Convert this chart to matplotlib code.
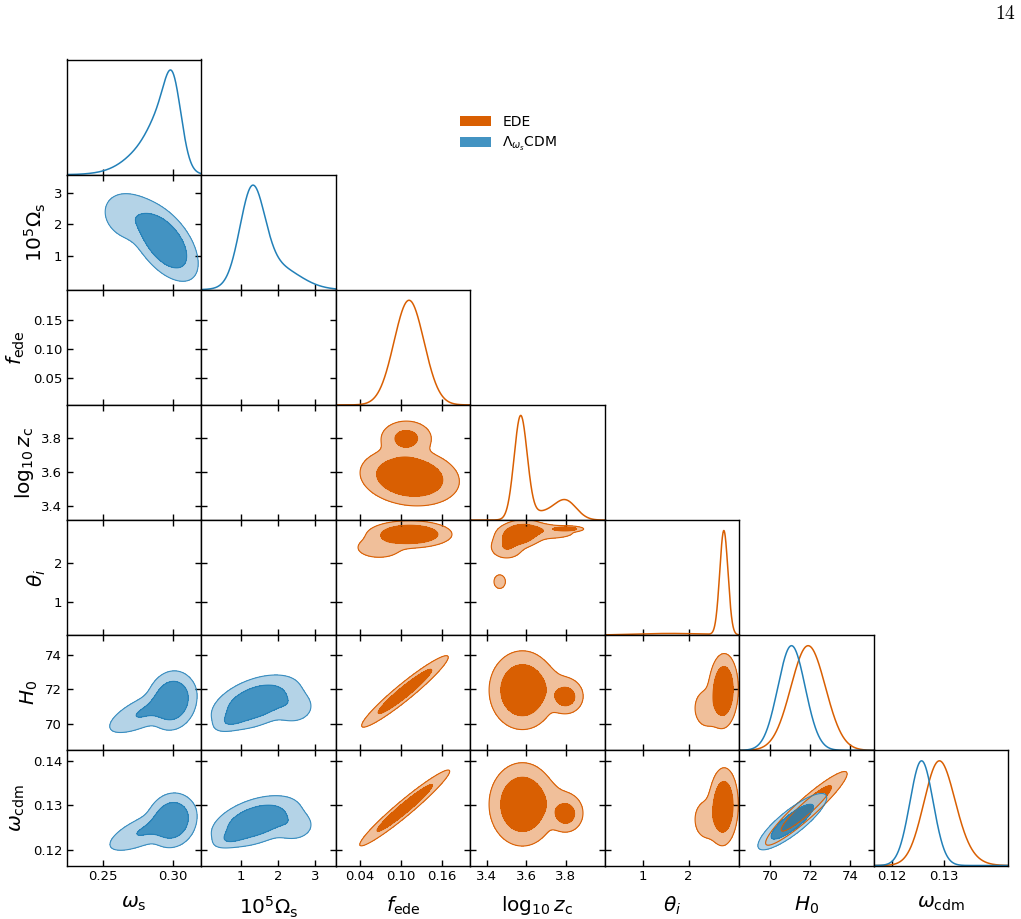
import numpy as np
import matplotlib
matplotlib.use('Agg')
import matplotlib.pyplot as plt
from matplotlib.patches import Patch

# ---------------- parameters ----------------
param_labels = [r'$\omega_{\rm s}$', r'$10^5\Omega_{\rm s}$', r'$f_{\rm ede}$',
                r'$\log_{10} z_{\rm c}$', r'$\theta_i$', r'$H_0$', r'$\omega_{\rm cdm}$']
param_lo = [0.2241, -0.07, 0.0045, 3.316, 0.16, 68.45, 0.1164]
param_hi = [0.3201, 3.57, 0.2020, 3.997, 3.105, 75.15, 0.1424]
param_upper_bound = [None, None, None, None, 3.10, None, None]

xtick_omegas = [0.25, 0.30];          xticklab_omegas = ['0.25', '0.30']
xtick_Omegas = [1, 2, 3];             xticklab_Omegas = ['1', '2', '3']
xtick_fede = [0.04, 0.10, 0.16];      xticklab_fede = ['0.04', '0.10', '0.16']
ytick_fede = [0.05, 0.10, 0.15];      yticklab_fede = ['0.05', '0.10', '0.15']
tick_logzc = [3.4, 3.6, 3.8];         ticklab_logzc = ['3.4', '3.6', '3.8']
tick_theta = [1, 2];                  ticklab_theta = ['1', '2']
tick_H0 = [70, 72, 74];               ticklab_H0 = ['70', '72', '74']
xtick_wcdm = [0.12, 0.13];            xticklab_wcdm = ['0.12', '0.13']
ytick_wcdm = [0.12, 0.13, 0.14];      yticklab_wcdm = ['0.12', '0.13', '0.14']
ytick_Omegas = [1, 2, 3];             yticklab_Omegas = ['1', '2', '3']

# ---------------- 1D marginals: (mean, sd, weight) ----------------
lcdm_1d_omegas = [(0.3000, 0.0060, 0.33), (0.2930, 0.0090, 0.33), (0.2820, 0.0130, 0.28),
                  (0.2650, 0.0150, 0.06)]
lcdm_1d_Omegas = [(1.30, 0.33, 0.65), (1.90, 0.65, 0.35)]
lcdm_1d_H0 = [(71.06, 0.68, 1.0)]
lcdm_1d_wcdm = [(0.12568, 0.00225, 1.0)]

ede_1d_fede = [(0.112, 0.022, 1.0)]
ede_1d_logzc = [(3.571, 0.033, 0.68), (3.80, 0.055, 0.20), (3.68, 0.08, 0.12)]
ede_1d_theta = [(2.77, 0.09, 0.87), (1.6, 0.8, 0.13)]
ede_1d_H0 = [(71.89, 0.86, 1.0)]
ede_1d_wcdm = [(0.1289, 0.0029, 0.85), (0.1320, 0.0033, 0.15)]

# ---------------- 2D posteriors: (mx, my, sx, sy, rho, weight) ----------------
lcdm_omegas_Omegas = [(0.2935, 1.45, 0.0097, 0.50, -0.55, 0.85), (0.2680, 2.25, 0.0100, 0.42, -0.2, 0.15)]
lcdm_omegas_H0 = [(0.2990, 71.35, 0.0072, 0.70, 0.10, 0.73), (0.2800, 70.70, 0.0130, 0.62, 0.70, 0.27)]
lcdm_omegas_wcdm = [(0.2990, 0.1266, 0.0072, 0.0025, 0.10, 0.73), (0.2800, 0.1243, 0.0130, 0.0023, 0.70, 0.27)]
lcdm_Omegas_H0 = [(1.40, 71.25, 0.50, 0.66, 0.45, 0.84), (2.40, 71.0, 0.30, 0.50, 0.0, 0.09),
                  (0.85, 70.35, 0.25, 0.35, 0.6, 0.07)]
lcdm_Omegas_wcdm = [(1.40, 0.1264, 0.50, 0.0024, 0.45, 0.84), (2.40, 0.1255, 0.30, 0.0018, 0.0, 0.09),
                    (0.85, 0.1232, 0.25, 0.0012, 0.6, 0.07)]
lcdm_H0_wcdm = [(71.1, 0.1263, 0.70, 0.00260, 0.85, 1.0)]

ede_fede_logzc = [(0.113, 3.57, 0.030, 0.070, -0.15, 0.85), (0.108, 3.80, 0.018, 0.050, 0.0, 0.15)]
ede_fede_theta = [(0.113, 2.74, 0.025, 0.14, 0.0, 0.88), (0.068, 2.40, 0.020, 0.16, 0.0, 0.12)]
ede_logzc_theta = [(3.565, 2.74, 0.05, 0.15, 0.2, 0.62), (3.80, 2.88, 0.035, 0.03, 0.0, 0.075),
                   (3.64, 2.85, 0.07, 0.08, 0.0, 0.09), (3.50, 2.40, 0.04, 0.14, 0.0, 0.12),
                   (3.72, 2.78, 0.10, 0.12, 0.0, 0.08), (3.465, 1.53, 0.02, 0.12, 0.0, 0.025)]
ede_fede_H0 = [(0.106, 71.88, 0.026, 0.85, 0.955, 1.0)]
ede_fede_wcdm = [(0.1057, 0.1294, 0.027, 0.0035, 0.965, 1.0)]
ede_logzc_H0 = [(3.58, 71.95, 0.070, 0.95, 0.0, 0.84), (3.80, 71.55, 0.040, 0.45, 0.0, 0.12),
                (3.74, 72.2, 0.08, 0.6, 0.0, 0.04)]
ede_logzc_wcdm = [(3.58, 0.1302, 0.070, 0.0039, 0.0, 0.84), (3.80, 0.1280, 0.040, 0.0019, 0.0, 0.12),
                  (3.74, 0.1310, 0.08, 0.0024, 0.0, 0.04)]
ede_theta_H0 = [(2.76, 71.92, 0.13, 0.86, 0.05, 0.88), (2.40, 70.9, 0.18, 0.70, 0.0, 0.12)]
ede_theta_wcdm = [(2.76, 0.1297, 0.13, 0.0035, 0.05, 0.88), (2.40, 0.1268, 0.18, 0.0028, 0.0, 0.12)]
ede_H0_wcdm = [(71.8, 0.1293, 0.83, 0.0034, 0.937, 1.0)]

# ---------------- styling ----------------
ede_color = '#D95F02'
lcdm_color = '#2280B8'
lcdm_alpha = 0.85
pale_factor = 0.6

# index: 0 omega_s, 1 Omega_s, 2 f_ede, 3 logzc, 4 theta, 5 H0, 6 wcdm
ede_1d = {2: ede_1d_fede, 3: ede_1d_logzc, 4: ede_1d_theta, 5: ede_1d_H0, 6: ede_1d_wcdm}
lcdm_1d = {0: lcdm_1d_omegas, 1: lcdm_1d_Omegas, 5: lcdm_1d_H0, 6: lcdm_1d_wcdm}
ede_2d = {(2, 3): ede_fede_logzc, (2, 4): ede_fede_theta, (3, 4): ede_logzc_theta,
          (2, 5): ede_fede_H0, (3, 5): ede_logzc_H0, (4, 5): ede_theta_H0,
          (2, 6): ede_fede_wcdm, (3, 6): ede_logzc_wcdm, (4, 6): ede_theta_wcdm,
          (5, 6): ede_H0_wcdm}
lcdm_2d = {(0, 1): lcdm_omegas_Omegas, (0, 5): lcdm_omegas_H0, (1, 5): lcdm_Omegas_H0,
           (0, 6): lcdm_omegas_wcdm, (1, 6): lcdm_Omegas_wcdm, (5, 6): lcdm_H0_wcdm}

xticks = [(xtick_omegas, xticklab_omegas), (xtick_Omegas, xticklab_Omegas), (xtick_fede, xticklab_fede),
          (tick_logzc, ticklab_logzc), (tick_theta, ticklab_theta), (tick_H0, ticklab_H0),
          (xtick_wcdm, xticklab_wcdm)]
yticks = [(None, None), (ytick_Omegas, yticklab_Omegas), (ytick_fede, yticklab_fede),
          (tick_logzc, ticklab_logzc), (tick_theta, ticklab_theta), (tick_H0, ticklab_H0),
          (ytick_wcdm, yticklab_wcdm)]


def pale(c):
    rgb = np.array(matplotlib.colors.to_rgb(c))
    return tuple(rgb + (1 - rgb) * pale_factor)


def mix1d(x, comps):
    y = np.zeros_like(x)
    for m, s, w in comps:
        y += w / s * np.exp(-0.5 * ((x - m) / s) ** 2)
    return y


def mix2d(X, Y, comps):
    Z = np.zeros_like(X)
    for mx, my, sx, sy, rho, w in comps:
        dx = (X - mx) / sx
        dy = (Y - my) / sy
        q = (dx * dx - 2 * rho * dx * dy + dy * dy) / (1 - rho * rho)
        Z += w / (2 * np.pi * sx * sy * np.sqrt(1 - rho * rho)) * np.exp(-0.5 * q)
    return Z


def hpd_levels(Z, fracs=(0.95, 0.68)):
    z = np.sort(Z.ravel())[::-1]
    c = np.cumsum(z)
    c /= c[-1]
    return [z[np.searchsorted(c, f)] for f in fracs]


def draw2d(ax, i, j, comps, color, alpha):
    lo_x, hi_x = param_lo[i], param_hi[i]
    lo_y, hi_y = param_lo[j], param_hi[j]
    ex = 0.6 * (hi_x - lo_x)
    ey = 0.6 * (hi_y - lo_y)
    x = np.linspace(lo_x - ex, hi_x + ex, 500)
    y = np.linspace(lo_y - ey, hi_y + ey, 500)
    X, Y = np.meshgrid(x, y)
    Z = mix2d(X, Y, comps)
    if param_upper_bound[i] is not None:
        Z[X > param_upper_bound[i]] = 0
    if param_upper_bound[j] is not None:
        Z[Y > param_upper_bound[j]] = 0
    l95, l68 = hpd_levels(Z)
    ax.contourf(X, Y, Z, levels=[l95, l68, Z.max() * 1.01], colors=[pale(color), color], alpha=alpha)
    ax.contour(X, Y, Z, levels=[l95, l68], colors=[color], linewidths=0.8, alpha=alpha)


def draw1d(ax, i, comps, color):
    x = np.linspace(param_lo[i], param_hi[i], 600)
    y = mix1d(x, comps)
    if param_upper_bound[i] is not None:
        y[x > param_upper_bound[i]] = 0
    ax.plot(x, y / y.max(), color=color, lw=1.1)


fig = plt.figure(figsize=(10.21, 9.19), dpi=100)
W, H = 1021.0, 919.0
left_px, right_px, top_px, bottom_px = 67.0, 1008.0, 59.5, 865.5
n = 7
cw = (right_px - left_px) / n
rh = (bottom_px - top_px) / n

for r in range(n):
    for c in range(r + 1):
        x0 = (left_px + c * cw) / W
        y0 = 1 - (top_px + (r + 1) * rh) / H
        ax = fig.add_axes([x0, y0, cw / W, rh / H])
        for sp in ax.spines.values():
            sp.set_linewidth(1.0)
        ax.set_xlim(param_lo[c], param_hi[c])
        ax.set_xticks(xticks[c][0])
        ax.set_xticklabels(xticks[c][1])
        if r == c:
            ax.set_ylim(0, 1.1)
            ax.set_yticks([])
            if c in ede_1d:
                draw1d(ax, c, ede_1d[c], ede_color)
            if c in lcdm_1d:
                draw1d(ax, c, lcdm_1d[c], lcdm_color)
            ax.tick_params(axis='x', direction='in', length=4, width=1, top=False, labelsize=9.5)
        else:
            ax.set_ylim(param_lo[r], param_hi[r])
            ax.set_yticks(yticks[r][0])
            ax.set_yticklabels(yticks[r][1])
            if (c, r) in ede_2d:
                draw2d(ax, c, r, ede_2d[(c, r)], ede_color, 1.0)
            if (c, r) in lcdm_2d:
                draw2d(ax, c, r, lcdm_2d[(c, r)], lcdm_color, lcdm_alpha)
            ax.set_xlim(param_lo[c], param_hi[c])
            ax.set_ylim(param_lo[r], param_hi[r])
            ax.tick_params(direction='in', length=4, width=1, top=True, right=True, labelsize=9.5)
        if r == n - 1:
            ax.set_xlabel(param_labels[c], fontsize=14.5, labelpad=8)
        else:
            ax.tick_params(labelbottom=False)
        if c == 0 and r > 0:
            ax.set_ylabel(param_labels[r], fontsize=14.5)
        else:
            ax.tick_params(labelleft=False)

handles = [Patch(facecolor=ede_color, edgecolor='none'),
           Patch(facecolor=lcdm_color, edgecolor='none', alpha=lcdm_alpha)]
fig.legend(handles, ['EDE', r'$\Lambda_{\omega_s}$CDM'], loc='upper left',
           bbox_to_anchor=(460 / W, 1 - 115 / H), frameon=False, fontsize=10,
           handlelength=2.2, handleheight=0.75, handletextpad=0.85, labelspacing=0.42,
           borderpad=0, borderaxespad=0)

fig.text(1016 / W, 1 - 19 / H, r'$14$', math_fontfamily='cm', fontsize=14, ha='right', va='baseline')

fig.savefig('out.png', dpi=100)
